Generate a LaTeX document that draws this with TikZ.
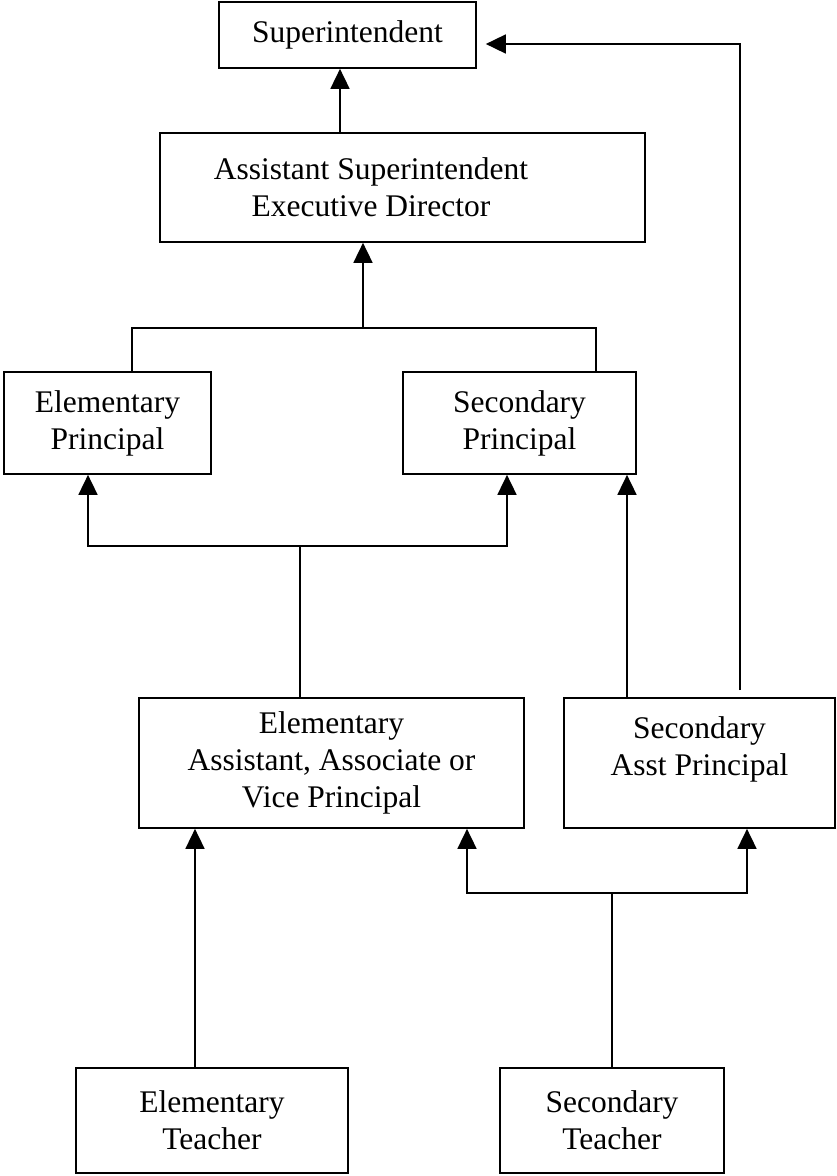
\documentclass[tikz,border=0pt]{standalone}
\usepackage{fontspec}
\setmainfont{Liberation Serif}
\usetikzlibrary{arrows.meta,calc,positioning}
\tikzset{
  caja/.style={
    draw=black,
    line width=1.7pt,
    inner sep=0pt,
    align=center,
    font=\fontsize{31.5}{37}\selectfont
  },
  texto/.style={
    align=center,
    inner sep=0pt,
    font=\fontsize{31.5}{37}\selectfont
  },
  linea/.style={
    line width=1.7pt,
    black
  },
  arrow/.style={
    -{Triangle[length=20pt,width=19pt]},
    line width=1.7pt,
    black
  }
}

\begin{document}
\begin{tikzpicture}[x=1pt,y=-1pt]
\useasboundingbox (0,0) rectangle (837,1176);
% cajas
\node[caja,minimum width=257pt,minimum height=66pt] (super) at (347.5,35) {Superintendent};
\node[caja,minimum width=485pt,minimum height=109pt] (asstsup) at (402.5,187.5) {};
\node[texto] (asstsupt) at (371,187.5) {Assistant Superintendent\\Executive Director};
\node[caja,minimum width=207pt,minimum height=102pt] (elemprin) at (107.5,423) {Elementary\\Principal};
\node[caja,minimum width=233pt,minimum height=102pt] (secprin) at (519.5,423) {Secondary\\Principal};
\node[caja,minimum width=385pt,minimum height=130pt] (elemasst) at (331.5,763) {Elementary\\Assistant, Associate or\\Vice Principal};
\node[caja,minimum width=271pt,minimum height=130pt] (secasst) at (699.5,763) {};
\node[texto] (secasstt) at (699.5,749.5) {Secondary\\Asst Principal};
\node[caja,minimum width=272pt,minimum height=105pt] (elemteach) at (212,1120.5) {Elementary\\Teacher};
\node[caja,minimum width=224pt,minimum height=105pt] (secteach) at (612,1120.5) {Secondary\\Teacher};
% puntos de union
\coordinate (pjoin) at (363,328);
\coordinate (ejoin) at (300,546);
\coordinate (tjoin) at (612,893);
\coordinate (subida) at (740,690);
% conectores
\draw[arrow] (asstsup.north -| 340,0) -- (super.south -| 340,0);
\draw[arrow] (pjoin) -- (asstsup.south -| pjoin);
\draw[linea] (elemprin.north -| 132,0) |- (pjoin) -| (secprin.north -| 596,0);
\draw[linea] (elemasst.north -| ejoin) -- (ejoin);
\draw[arrow] (ejoin) -| (elemprin.south -| 88,0);
\draw[arrow] (ejoin) -| (secprin.south -| 507,0);
\draw[arrow] (secasst.north -| 627,0) -- (secprin.south -| 627,0);
\draw[arrow] (subida) |- ([xshift=9pt,yshift=-9pt]super.east);
\draw[arrow] (elemteach.north -| 195,0) -- (elemasst.south -| 195,0);
\draw[linea] (secteach.north) -- (tjoin);
\draw[arrow] (tjoin) -| (elemasst.south -| 467,0);
\draw[arrow] (tjoin) -| (secasst.south -| 747,0);
\end{tikzpicture}
\end{document}
